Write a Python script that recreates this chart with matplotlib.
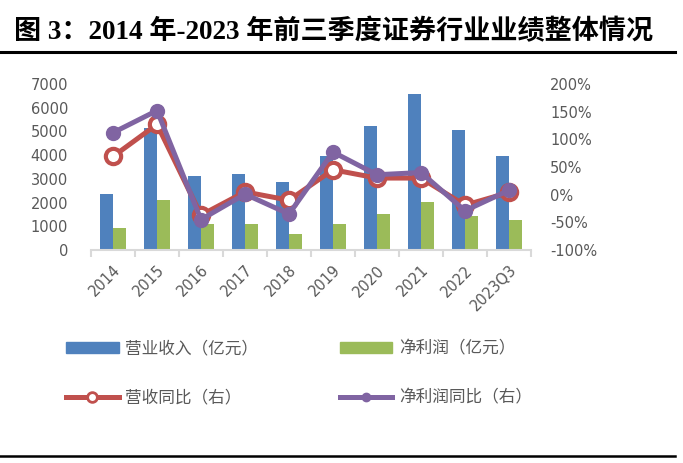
import numpy as np
import matplotlib
matplotlib.use("Agg")
import matplotlib.pyplot as plt
from matplotlib.lines import Line2D
from matplotlib.patches import Patch

plt.rcParams['font.family'] = ['DejaVu Sans', 'Noto Sans CJK SC']

# data
years = ['2014', '2015', '2016', '2017', '2018', '2019', '2020', '2021', '2022', '2023Q3']
revenue = [2360, 5130, 3120, 3200, 2870, 3970, 5230, 6580, 5060, 3970]        # 营业收入（亿元）
net_profit = [930, 2110, 1100, 1100, 680, 1100, 1520, 2020, 1430, 1270]        # 净利润（亿元）
revenue_yoy = [69, 127, -37, 5, -10, 45, 30, 30, -19, 4]                        # 营收同比 %
profit_yoy = [112, 152, -45, 1, -35, 77, 36, 40, -29, 8]                        # 净利润同比 %

blue = '#4F81BD'
green = '#9BBB59'
red = '#C0504D'
purple = '#8064A2'
grey = '#595959'

W, H = 683, 463
fig = plt.figure(figsize=(W / 100, H / 100), dpi=100)

# axes area in pixels: x 91..531, y 84..250
ax = fig.add_axes([91 / W, 1 - 250 / H, 440 / W, 166 / H])
x = np.arange(len(years))
bw = 0.3
ax.bar(x - bw / 2, revenue, bw, color=blue, zorder=2)
ax.bar(x + bw / 2, net_profit, bw, color=green, zorder=2)
ax.set_xlim(-0.5, len(years) - 0.5)
ax.set_ylim(0, 7000)
ax.set_yticks(np.arange(0, 7001, 1000))
ax.tick_params(axis='y', length=0, labelsize=10.5, labelcolor=grey, pad=16.5)
ax.set_xticks(x)
ax.set_xticklabels(years, rotation=45, ha='right', va='top', rotation_mode='anchor',
                   fontsize=10.5, color=grey)
ax.tick_params(axis='x', which='major', length=0, pad=9)
ax.set_xticks(np.arange(-0.5, len(years), 1), minor=True)
ax.tick_params(axis='x', which='minor', length=5, width=1.5, color='#D9D9D9', direction='out')
for s in ['top', 'left', 'right']:
    ax.spines[s].set_visible(False)
ax.spines['bottom'].set_color('#D9D9D9')
ax.spines['bottom'].set_linewidth(1.5)

ax2 = ax.twinx()
ax2.plot(x, revenue_yoy, color=red, lw=3.6, marker='o', ms=11, mfc='white',
         mec=red, mew=3, zorder=3)
ax2.plot(x, profit_yoy, color=purple, lw=3.6, marker='o', ms=10, mfc=purple,
         mec=purple, zorder=4)
ax2.set_ylim(-100, 200)
ax2.set_yticks(np.arange(-100, 201, 50))
ax2.set_yticklabels([f'{v}%' for v in range(-100, 201, 50)])
ax2.tick_params(axis='y', length=0, labelsize=10.5, labelcolor=grey, pad=13.7)
for s in ['top', 'left', 'right', 'bottom']:
    ax2.spines[s].set_visible(False)

# legend
handles = [
    Patch(color=blue),
    Line2D([0], [0], color=red, lw=3.6, marker='o', ms=7, mfc='white', mec=red, mew=2),
    Patch(color=green),
    Line2D([0], [0], color=purple, lw=3.6, marker='o', ms=6, mfc=purple, mec=purple),
]
labels = ['营业收入（亿元）', '营收同比（右）', '净利润（亿元）', '净利润同比（右）']
fig.legend(handles, labels, loc='upper left', bbox_to_anchor=(66 / W, 1 - 340 / H),
           ncol=2, frameon=False, labelcolor=grey,
           prop={'family': ['Noto Sans CJK SC'], 'size': 12},
           handlelength=3.15, handleheight=0.65, handletextpad=0.4,
           columnspacing=4.9, labelspacing=1.95, borderpad=0, borderaxespad=0)

# title and rules
fig.text(14 / W, 1 - 32 / H, '图 3：2014 年-2023 年前三季度证券行业业绩整体情况',
         fontsize=19.5, fontweight='bold', va='center', ha='left',
         family=['Liberation Serif', 'Noto Sans CJK SC'])
fig.add_artist(Line2D([0, 675 / W], [1 - 52 / H] * 2, color='black', lw=2.2))
fig.add_artist(Line2D([0, 675 / W], [1 - 456 / H] * 2, color='black', lw=1.8))

fig.savefig('out.png', dpi=100)
